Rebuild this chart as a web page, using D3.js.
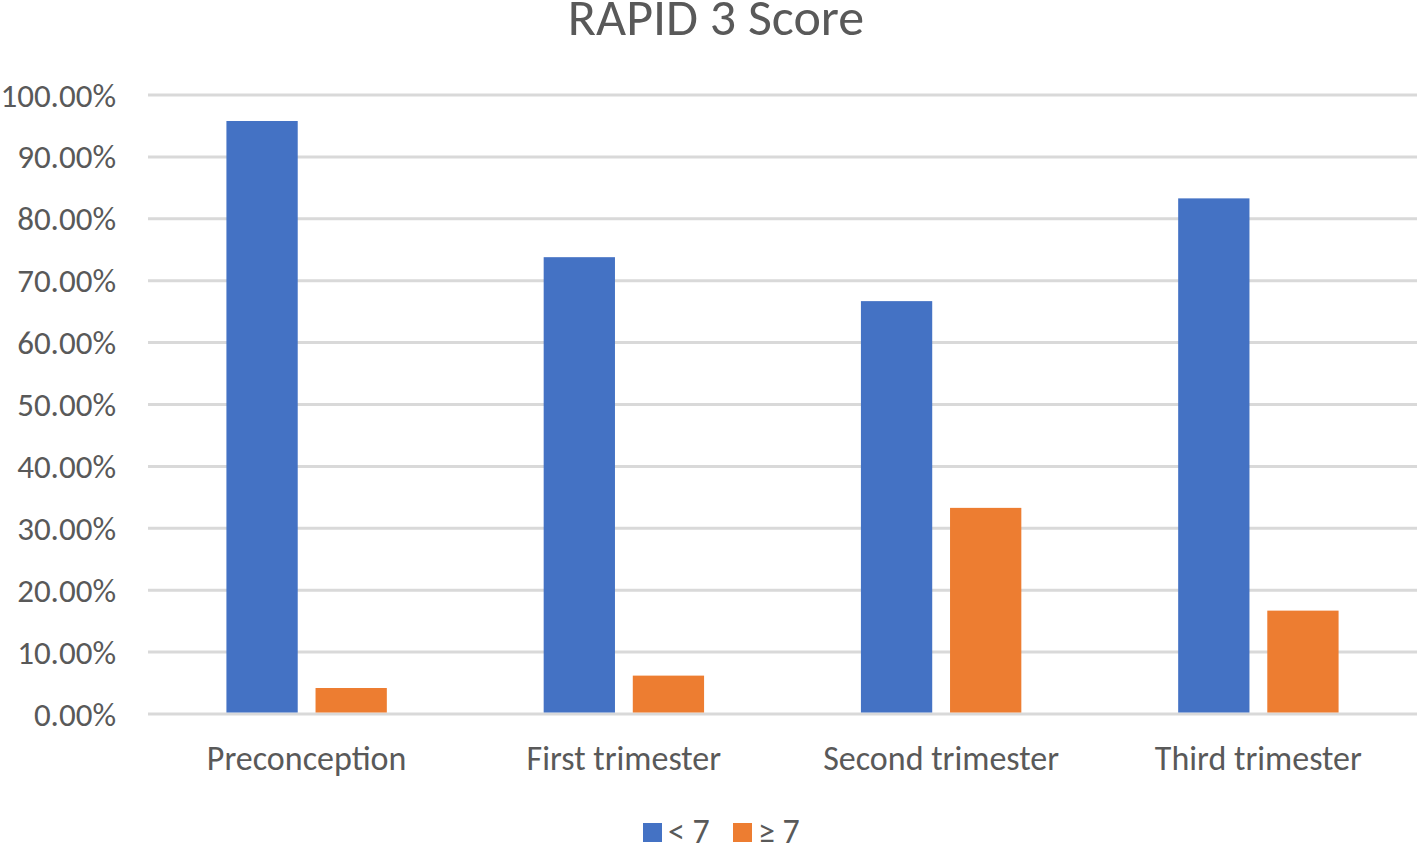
<!DOCTYPE html>
<html>
<head>
<meta charset="utf-8">
<script src="https://cdn.jsdelivr.net/npm/d3@7"></script>
<style>
  html, body { margin: 0; padding: 0; background: #fff; }
  svg { display: block; }
</style>
</head>
<body>
<div id="chart"></div>
<script>
// RAPID 3 score by pregnancy stage

const categories = ["Preconception", "First trimester", "Second trimester", "Third trimester"];
const seriesNames = ["< 7", "\u2265 7"];
const below7 = [95.8, 73.8, 66.7, 83.3];
const above7 = [4.2, 6.2, 33.3, 16.7];
const yTicks = [0, 10, 20, 30, 40, 50, 60, 70, 80, 90, 100];
const colors = ["#4472c4", "#ed7d31"];

const width = 1417, height = 844;
const margin = { top: 95, right: 0, bottom: 130, left: 148 };
const font = "Calibri, Carlito, 'Open Sans', sans-serif";

const svg = d3.select("#chart").append("svg")
  .attr("width", width)
  .attr("height", height);

const x = d3.scaleBand()
  .domain(categories)
  .range([margin.left, width - margin.right]);

const xSeries = d3.scaleBand()
  .domain(seriesNames)
  .range([0, x.bandwidth()])
  .paddingInner(0.2)
  .paddingOuter(0.88);

const y = d3.scaleLinear()
  .domain([0, 100])
  .range([height - margin.bottom, margin.top]);

// gridlines
svg.append("g")
  .selectAll("line")
  .data(yTicks)
  .join("line")
  .attr("x1", margin.left)
  .attr("x2", width - margin.right)
  .attr("y1", d => y(d))
  .attr("y2", d => y(d))
  .attr("stroke", "#d9d9d9")
  .attr("stroke-width", 3);

// y tick labels
svg.append("g")
  .selectAll("text")
  .data(yTicks)
  .join("text")
  .attr("x", 116)
  .attr("y", d => y(d))
  .attr("dy", "0.35em")
  .attr("text-anchor", "end")
  .attr("fill", "#595959")
  .attr("font-family", font)
  .attr("font-size", "33px")
  .text(d => d.toFixed(2) + "%");

// bars
const rows = categories.map((c, i) => ({ cat: c, values: [below7[i], above7[i]] }));

svg.append("g")
  .selectAll("g")
  .data(rows)
  .join("g")
  .attr("transform", d => `translate(${x(d.cat)},0)`)
  .selectAll("rect")
  .data(d => d.values.map((v, j) => ({ name: seriesNames[j], value: v, j })))
  .join("rect")
  .attr("x", d => xSeries(d.name))
  .attr("width", xSeries.bandwidth())
  .attr("y", d => y(d.value))
  .attr("height", d => y(0) - y(d.value) - 1.5)
  .attr("fill", d => colors[d.j]);

// category labels
svg.append("g")
  .selectAll("text")
  .data(categories)
  .join("text")
  .attr("x", d => x(d) + x.bandwidth() / 2)
  .attr("y", 770)
  .attr("text-anchor", "middle")
  .attr("fill", "#595959")
  .attr("font-family", font)
  .attr("font-size", "34px")
  .text(d => d);

// title
svg.append("text")
  .attr("x", 716)
  .attr("y", 35)
  .attr("text-anchor", "middle")
  .attr("fill", "#595959")
  .attr("font-family", font)
  .attr("font-size", "52px")
  .text("RAPID 3 Score");

// legend
const legendX = [643, 733];
const legend = svg.append("g")
  .selectAll("g")
  .data(seriesNames)
  .join("g")
  .attr("transform", (d, i) => `translate(${legendX[i]},823)`);

legend.append("rect")
  .attr("width", 19)
  .attr("height", 19)
  .attr("fill", (d, i) => colors[i]);

legend.append("text")
  .attr("x", 25)
  .attr("y", 20)
  .attr("fill", "#595959")
  .attr("font-family", font)
  .attr("font-size", "34px")
  .text(d => d);
</script>
</body>
</html>
